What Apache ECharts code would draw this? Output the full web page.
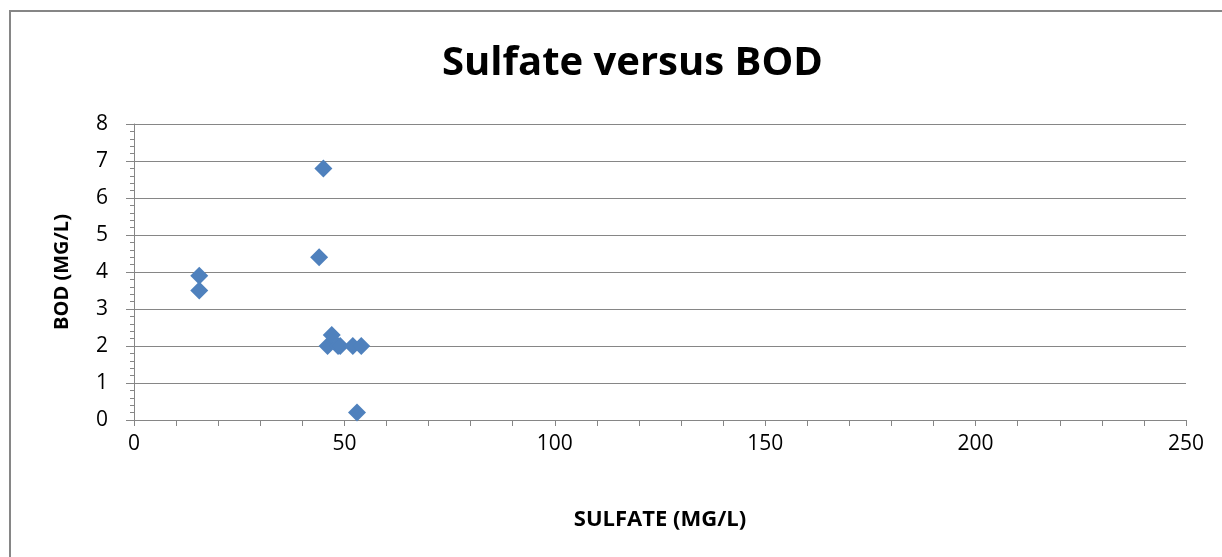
<!DOCTYPE html>
<html>
<head>
<meta charset="utf-8">
<script src="https://cdn.jsdelivr.net/npm/echarts@6/dist/echarts.min.js"></script>
<style>
  html, body { margin: 0; padding: 0; background: #ffffff; }
  #chart { width: 1222px; height: 557px; }
</style>
</head>
<body>
<div id="chart"></div>
<script>
// Sulfate (mg/L) and BOD (mg/L) measured at each sample
const sulfate = [15.5, 15.5, 45, 44, 46, 47, 48.5, 49, 52, 54, 53];
const bod     = [3.9,  3.5,  6.8, 4.4, 2.0, 2.3, 2.0, 2.0, 2.0, 2.0, 0.2];

const xTicks = [0, 50, 100, 150, 200, 250];
const yTicks = [0, 1, 2, 3, 4, 5, 6, 7, 8];

const points = sulfate.map((s, i) => [s, bod[i]]);

const gray = '#868686';
const font = '"Open Sans", "Liberation Sans", sans-serif';

const chart = echarts.init(document.getElementById('chart'), null, { renderer: 'canvas' });
chart.setOption({
  backgroundColor: '#ffffff',
  animation: false,
  title: {
    text: 'Sulfate versus BOD',
    left: 437,
    top: 39,
    textStyle: { fontFamily: font, fontWeight: 'bold', fontSize: 40, color: '#000000' }
  },
  graphic: [{
    type: 'rect',
    shape: { x: 10, y: 11, width: 1240, height: 580 },
    style: { fill: 'none', stroke: gray, lineWidth: 2 },
    silent: true
  }],
  grid: { left: 134, right: 36, top: 124, bottom: 137 },
  xAxis: {
    type: 'value',
    min: xTicks[0],
    max: xTicks[xTicks.length - 1],
    interval: 50,
    name: 'SULFATE (MG/L)',
    nameLocation: 'middle',
    nameGap: 89,
    nameTextStyle: { fontFamily: font, fontWeight: 'bold', fontSize: 22, color: '#000000' },
    axisLine: { onZero: false, lineStyle: { color: gray, width: 1 } },
    axisTick: { show: true, length: 6, lineStyle: { color: gray } },
    minorTick: { show: true, splitNumber: 5, length: 6, lineStyle: { color: gray } },
    axisLabel: { fontFamily: font, fontSize: 21, color: '#000000', margin: 14 },
    splitLine: { show: false }
  },
  yAxis: {
    type: 'value',
    min: yTicks[0],
    max: yTicks[yTicks.length - 1],
    interval: 1,
    name: 'BOD (MG/L)',
    nameLocation: 'middle',
    nameGap: 62,
    nameTextStyle: { fontFamily: font, fontWeight: 'bold', fontSize: 20, color: '#000000' },
    axisLine: { show: true, lineStyle: { color: gray, width: 1 } },
    axisTick: { show: true, length: 8, lineStyle: { color: gray } },
    minorTick: { show: true, splitNumber: 5, length: 4, lineStyle: { color: gray } },
    axisLabel: { fontFamily: font, fontSize: 21, color: '#000000', margin: 26 },
    splitLine: { show: true, lineStyle: { color: gray, width: 1 } }
  },
  series: [{
    type: 'scatter',
    data: points,
    symbol: 'diamond',
    symbolSize: 18,
    itemStyle: { color: '#4F81BD', opacity: 1 }
  }]
});
</script>
</body>
</html>
